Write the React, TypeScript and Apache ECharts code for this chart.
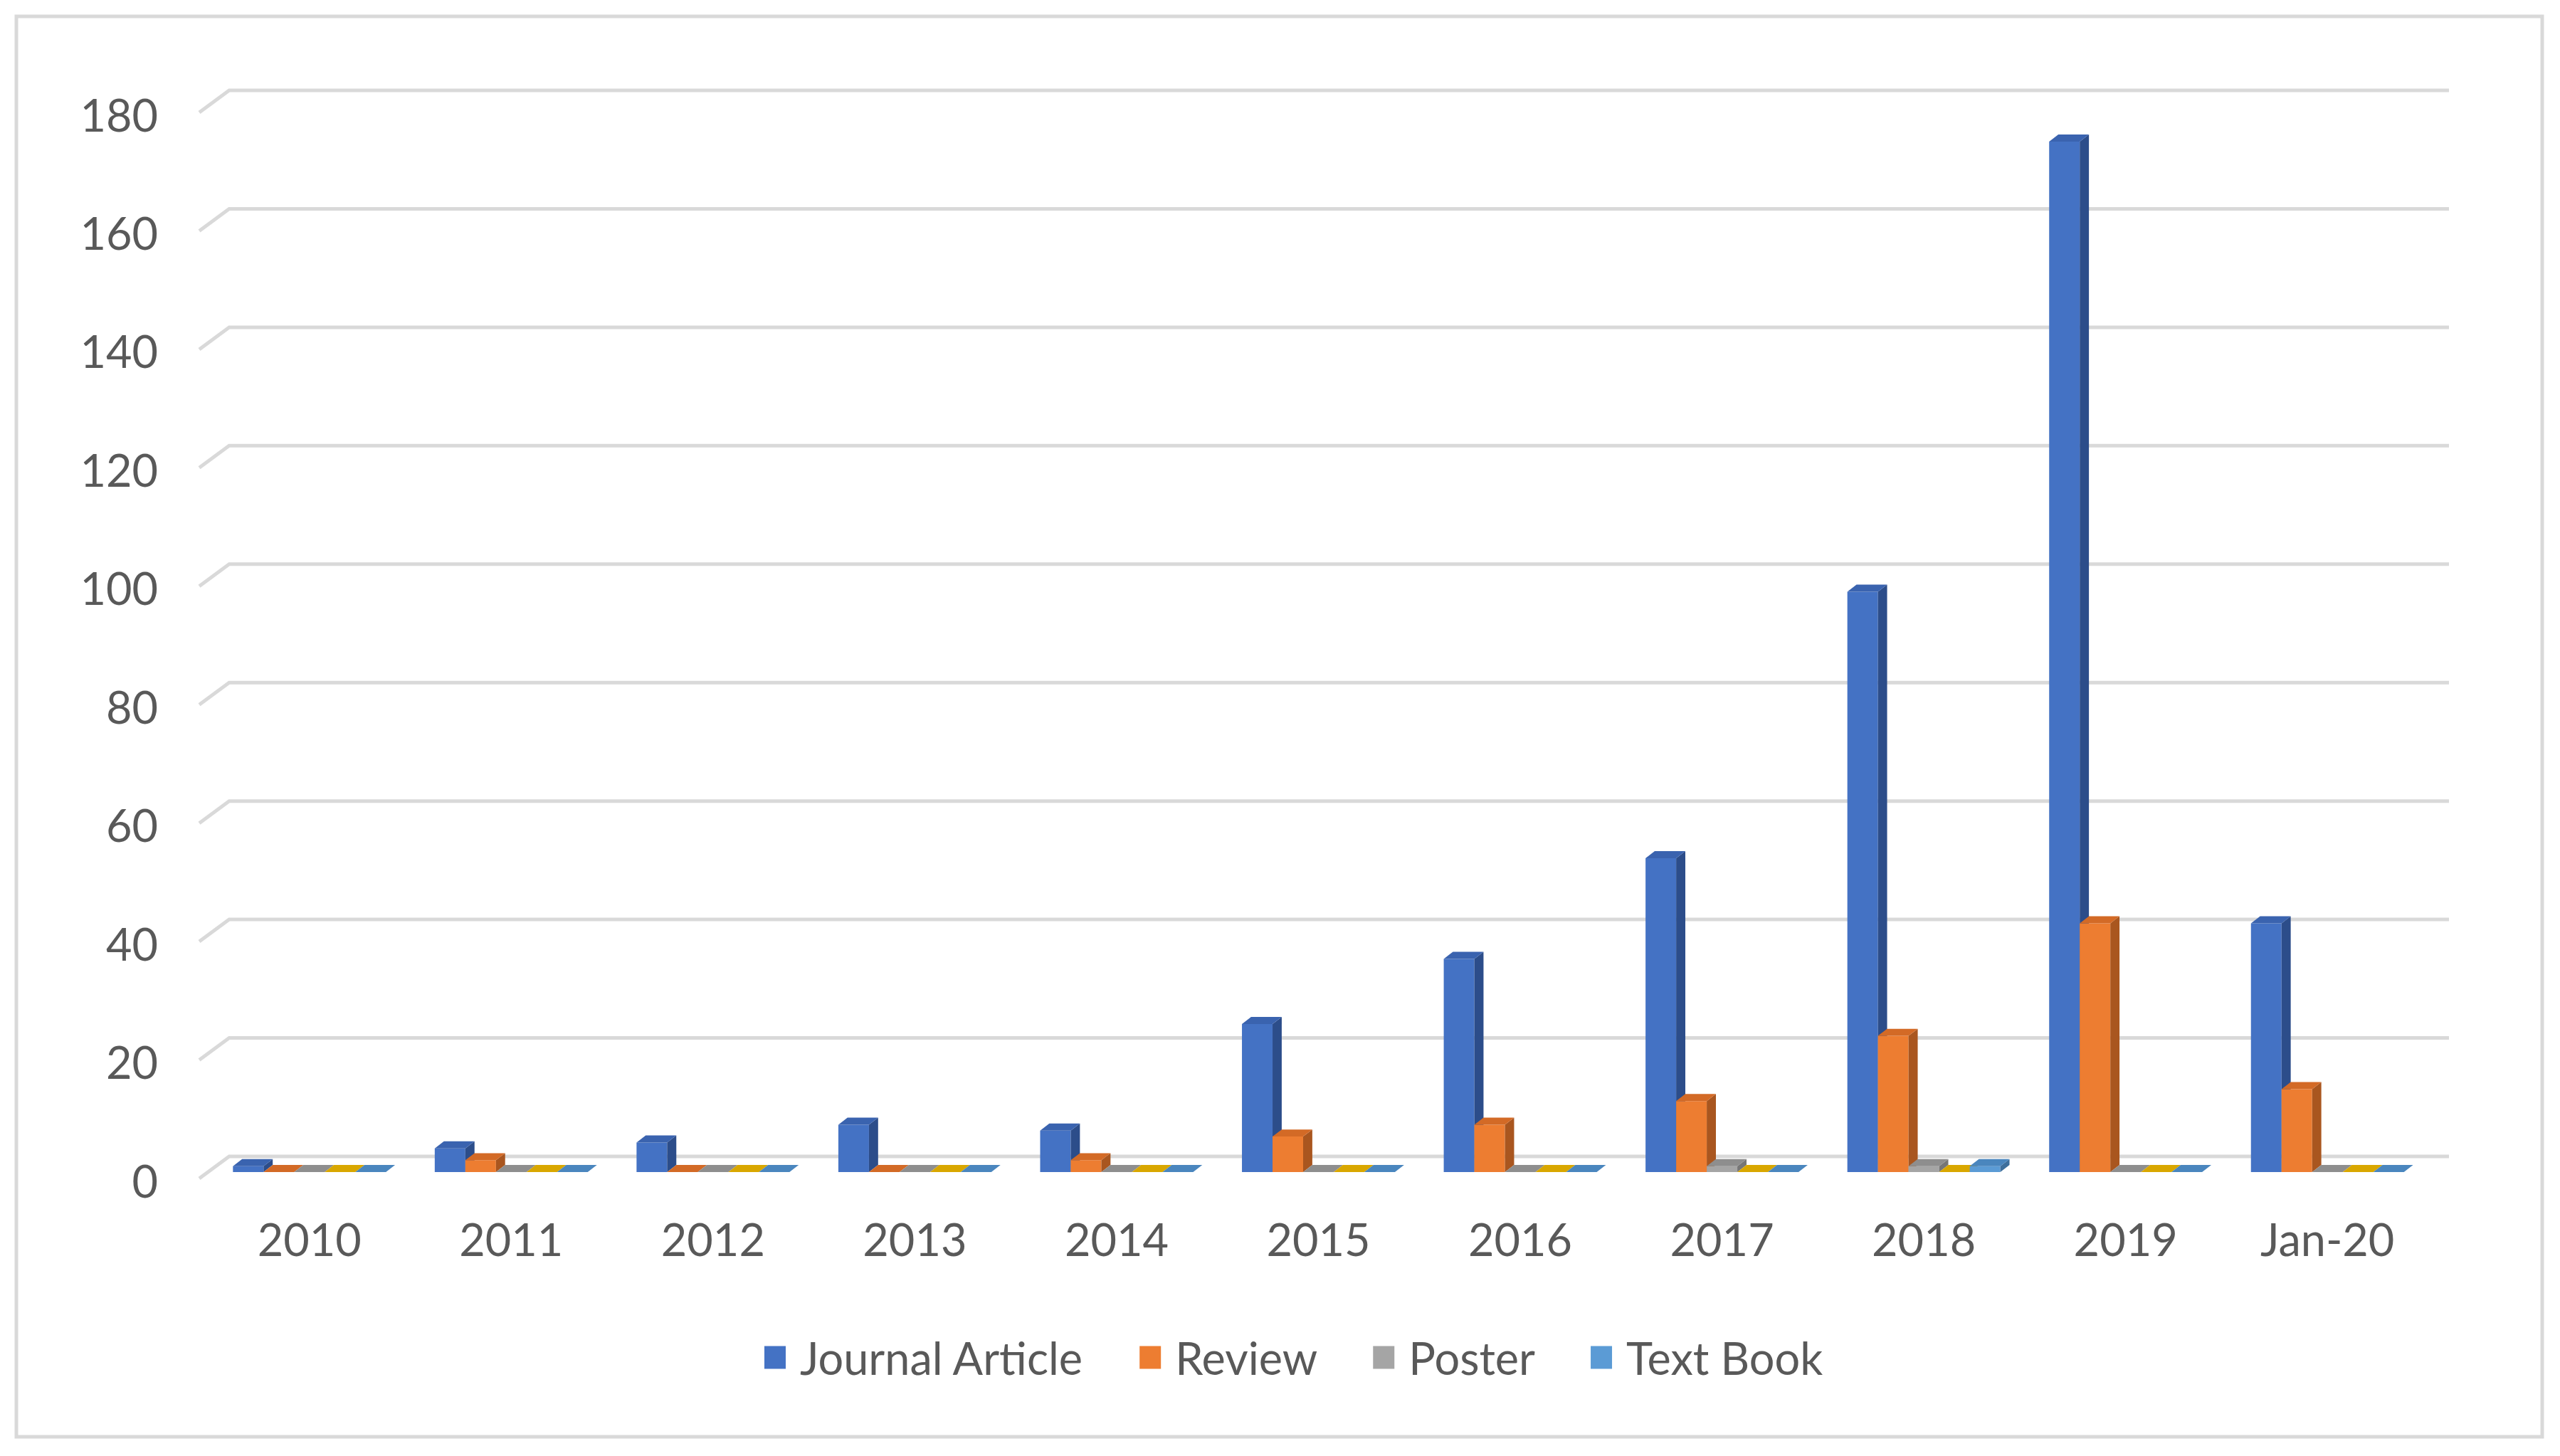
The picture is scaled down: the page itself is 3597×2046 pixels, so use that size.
import React, { useEffect, useRef } from "react";
import * as echarts from "echarts";

const W = 3597;
const H = 2046;

const categories = ["2010", "2011", "2012", "2013", "2014", "2015", "2016", "2017", "2018", "2019", "Jan-20"];
const journalArticle = [1, 4, 5, 8, 7, 25, 36, 53, 98, 174, 42];
const review = [0, 2, 0, 0, 2, 6, 8, 12, 23, 42, 14];
const poster = [0, 0, 0, 0, 0, 0, 0, 1, 1, 0, 0];
const unnamedSeries = [0, 0, 0, 0, 0, 0, 0, 0, 0, 0, 0];
const textBook = [0, 0, 0, 0, 0, 0, 0, 0, 1, 0, 0];
const yTicks = [0, 20, 40, 60, 80, 100, 120, 140, 160, 180];

const FONT = 'Lato, "Open Sans", "DejaVu Sans", sans-serif';
const TEXT = "#595959";
const GRID = "#D9D9D9";

const seriesDefs = [
  { name: "Journal Article", data: journalArticle, front: "#4472C4", side: "#2C4D8A", top: "#3A63AF" },
  { name: "Review", data: review, front: "#ED7D31", side: "#A9561F", top: "#D36A26" },
  { name: "Poster", data: poster, front: "#A5A5A5", side: "#767676", top: "#8E8E8E" },
  { name: "", data: unnamedSeries, front: "#FFC000", side: "#B88A00", top: "#D9A700" },
  { name: "Text Book", data: textBook, front: "#5B9BD5", side: "#3E6F9C", top: "#4A86BE" },
];

const BAR_FRAC = 0.1516;

function barRenderer(k: number, def: any) {
  return (params: any, api: any) => {
    const i = api.value(0);
    const v = api.value(1);
    const top = api.coord([i, v]);
    const base = api.coord([i, 0]);
    const band = api.size([1, 0])[0];
    const w = band * BAR_FRAC;
    const dx = w * 0.3;
    const dy = w * 0.23;
    const x0 = top[0] - 2.5 * w + k * w;
    const x1 = x0 + w;
    const yT = top[1];
    const yB = base[1];
    const children: any[] = [];
    if (yB - yT > 0.5) {
      children.push({
        type: "polygon",
        shape: { points: [[x0, yT], [x1, yT], [x1, yB], [x0, yB]] },
        style: { fill: def.front },
      });
      children.push({
        type: "polygon",
        shape: { points: [[x1, yT], [x1 + dx, yT - dy], [x1 + dx, yB - dy], [x1, yB]] },
        style: { fill: def.side },
      });
    }
    children.push({
      type: "polygon",
      shape: { points: [[x0, yT], [x0 + dx, yT - dy], [x1 + dx, yT - dy], [x1, yT]] },
      style: { fill: def.top },
    });
    return { type: "group", children };
  };
}

function wallRenderer(params: any, api: any) {
  const v = api.value(1);
  const p = api.coord([0, v]);
  const cs = params.coordSys;
  const left = cs.x;
  const right = cs.x + cs.width;
  const y = p[1];
  return {
    type: "polyline",
    shape: {
      points: [
        [left - 13, y + 9],
        [left + 29, y - 22],
        [right + 29, y - 22],
      ],
    },
    style: { stroke: GRID, lineWidth: 5, fill: null },
  };
}

export default function App() {
  const ref = useRef<HTMLDivElement>(null);
  useEffect(() => {
    if (!ref.current) return;
    const chart = echarts.init(ref.current, null, { renderer: "svg", width: W, height: H });
    const option: any = {
      animation: false,
      backgroundColor: "#FFFFFF",
      textStyle: { fontFamily: FONT },
      graphic: [
        {
          type: "rect",
          shape: { x: 23, y: 23, width: 3549, height: 1996 },
          style: { fill: null, stroke: GRID, lineWidth: 5 },
          silent: true,
          z: -10,
        },
      ],
      grid: { left: 293, right: 185, top: 149, bottom: 399, containLabel: false },
      xAxis: {
        type: "category",
        data: categories,
        axisLine: { show: false },
        axisTick: { show: false },
        splitLine: { show: false },
        axisLabel: { color: TEXT, fontSize: 63, fontFamily: FONT, margin: 62, interval: 0 },
      },
      yAxis: {
        type: "value",
        min: 0,
        max: 180,
        interval: 20,
        axisLine: { show: false },
        axisTick: { show: false },
        splitLine: { show: false },
        axisLabel: {
          color: TEXT,
          fontSize: 63,
          fontFamily: FONT,
          margin: 71,
          verticalAlign: "top",
          lineHeight: 22,
        },
      },
      legend: {
        data: ["Journal Article", "Review", "Poster", "Text Book"],
        left: 1069,
        top: 1871,
        icon: "rect",
        itemWidth: 30,
        itemHeight: 32,
        itemGap: 78,
        textStyle: { color: TEXT, fontSize: 63, fontFamily: FONT, padding: [0, 0, 0, 15] },
      },
      series: [
        {
          type: "custom",
          name: "wall",
          silent: true,
          z: 1,
          renderItem: wallRenderer,
          data: yTicks.map((t) => [0, t]),
        },
        ...seriesDefs.map((def, k) => ({
          type: "custom",
          name: def.name,
          z: 2,
          itemStyle: { color: def.front },
          renderItem: barRenderer(k, def),
          data: def.data.map((v, i) => [i, v]),
        })),
      ],
    };
    chart.setOption(option);
    return () => chart.dispose();
  }, []);
  return <div ref={ref} style={{ position: "absolute", left: 0, top: 0, width: W, height: H }} />;
}
